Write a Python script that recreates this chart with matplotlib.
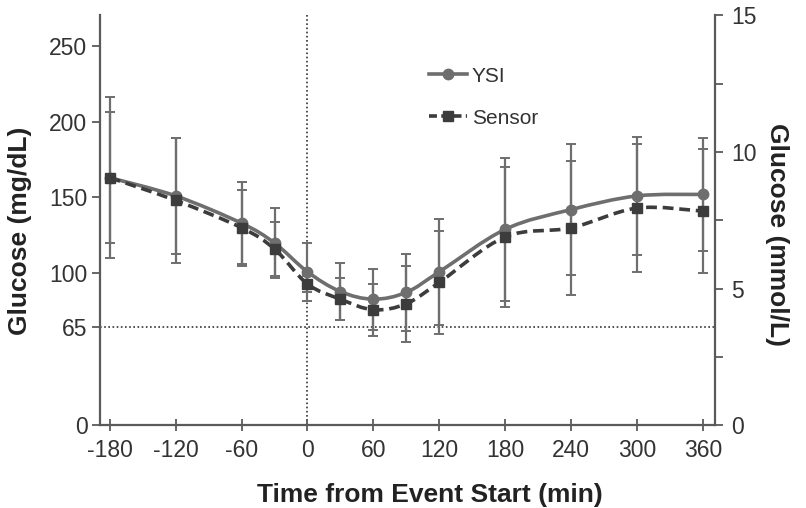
import numpy as np
import matplotlib
matplotlib.use("Agg")
import matplotlib.pyplot as plt
from matplotlib.path import Path
from matplotlib.patches import PathPatch
from matplotlib.lines import Line2D

plt.rcParams['font.family'] = ['Liberation Sans', 'DejaVu Sans']
plt.rcParams['axes.unicode_minus'] = False

# data (mg/dL)
minutes = [-180, -120, -60, -30, 0, 30, 60, 90, 120, 180, 240, 300, 360]
ysi_mean = [163, 151, 133, 120, 101, 88, 83, 87.5, 101, 129, 142, 151, 152]
ysi_sd = [53, 38, 27, 23, 19, 18.5, 20, 25.5, 35, 47, 43, 39, 37]
sensor_mean = [163, 148, 130, 116, 93, 83, 76, 80, 94, 124, 130, 143, 141]
sensor_sd = [43, 41, 25, 18, 5.5, 14, 17, 25, 34, 46, 44, 42, 41]

xticks = [-180, -120, -60, 0, 60, 120, 180, 240, 300, 360]
yticks_mgdl = [0, 65, 100, 150, 200, 250]
yticks_mmol = [0, 5, 10, 15]
hypo_limit = 65

line_grey = '#6e6e6e'
dark_grey = '#3c3c3c'
axis_grey = '#5a5a5a'


def smooth_path(x, y, tension=1.0 / 6):
    # Excel style smoothed line: Catmull-Rom segments as cubic Bezier curves
    x = np.asarray(x, float)
    y = np.asarray(y, float)
    n = len(x)
    verts = [(x[0], y[0])]
    codes = [Path.MOVETO]
    for i in range(n - 1):
        p0 = i - 1 if i > 0 else i
        p3 = i + 2 if i + 2 < n else i + 1
        c1 = (x[i] + (x[i + 1] - x[p0]) * tension, y[i] + (y[i + 1] - y[p0]) * tension)
        c2 = (x[i + 1] - (x[p3] - x[i]) * tension, y[i + 1] - (y[p3] - y[i]) * tension)
        verts += [c1, c2, (x[i + 1], y[i + 1])]
        codes += [Path.CURVE4] * 3
    return Path(verts, codes)


fig = plt.figure(figsize=(8.06, 5.08), dpi=100)
ax = fig.add_axes([0.124, 0.163, 0.763, 0.807])

# reference lines
ax.axhline(hypo_limit, color='#333333', lw=1.2, ls=(0, (1, 1.5)), zorder=1)
ax.axvline(0, color='#333333', lw=1.2, ls=(0, (1, 1.5)), zorder=1)

# error bars
ax.errorbar(minutes, ysi_mean, yerr=ysi_sd, fmt='none', ecolor=line_grey,
            elinewidth=1.6, capsize=3.5, capthick=1.4, zorder=2)
ax.errorbar(minutes, sensor_mean, yerr=sensor_sd, fmt='none', ecolor=line_grey,
            elinewidth=1.6, capsize=3.5, capthick=1.4, zorder=2)

# smoothed lines
ax.add_patch(PathPatch(smooth_path(minutes, ysi_mean), facecolor='none',
                       edgecolor=line_grey, lw=2.6, zorder=3))
ax.add_patch(PathPatch(smooth_path(minutes, sensor_mean), facecolor='none',
                       edgecolor=dark_grey, lw=2.6, ls=(0, (3.0, 1.6)), zorder=3))
ax.plot(minutes, ysi_mean, ls='none', marker='o', ms=7.5, color=line_grey, zorder=4)
ax.plot(minutes, sensor_mean, ls='none', marker='s', ms=6.5, color=dark_grey, zorder=4)

ax.set_xlim(-189, 371)
ax.set_ylim(0, 270)
ax.set_xticks(xticks)
ax.set_yticks(yticks_mgdl)
ax.tick_params(axis='both', labelsize=16.5, colors=axis_grey, labelcolor='#333333')
ax.tick_params(axis='x', direction='inout', length=8, width=1.3, pad=6)
ax.tick_params(axis='y', direction='out', length=6, width=1.3, pad=3)

for side in ['top', 'right']:
    ax.spines[side].set_visible(False)
for side in ['left', 'bottom']:
    ax.spines[side].set_color(axis_grey)
    ax.spines[side].set_linewidth(1.6)

ax.set_xlabel('Time from Event Start (min)', fontsize=19, fontweight='bold', color='#222222')
ax.xaxis.set_label_coords(0.537, -0.141)
ax.set_ylabel('Glucose (mg/dL)', fontsize=19, fontweight='bold', color='#222222')
ax.yaxis.set_label_coords(-0.11, 0.473)

# secondary axis in mmol/L
ax2 = ax.twinx()
ax2.set_ylim(0, 15)
ax2.set_yticks(yticks_mmol)
ax2.set_yticks([2.5, 7.5, 12.5], minor=True)
ax2.tick_params(axis='y', which='both', direction='out', length=6, width=1.3,
                colors=axis_grey, labelcolor='#333333', labelsize=16.5, pad=6)
for side in ['top', 'left', 'bottom']:
    ax2.spines[side].set_visible(False)
ax2.spines['right'].set_color(axis_grey)
ax2.spines['right'].set_linewidth(1.6)
ax2.set_ylabel('Glucose (mmol/L)', fontsize=19, fontweight='bold', color='#222222',
               rotation=270)
ax2.yaxis.set_label_coords(1.12, 0.466)

handles = [
    Line2D([], [], color=line_grey, lw=2.6, marker='o', ms=7.5),
    Line2D([], [], color=dark_grey, lw=2.6, ls=(0, (2.2, 1.2)), marker='s', ms=6.5),
]
ax.legend(handles, ['YSI', 'Sensor'], loc='upper left', bbox_to_anchor=(0.505, 0.92),
          frameon=False, fontsize=15, handlelength=1.8, handletextpad=0.25,
          labelspacing=1.1, labelcolor='#333333')

fig.savefig('out.png', dpi=100)
